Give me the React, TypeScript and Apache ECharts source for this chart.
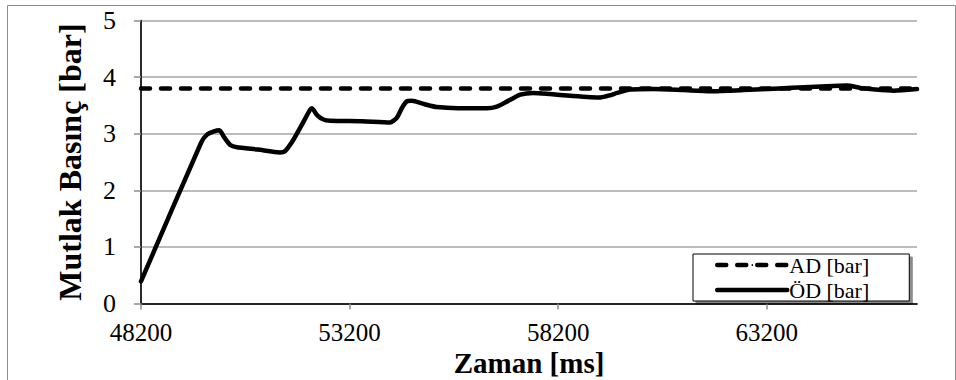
import React, { useEffect, useRef } from "react";
import * as echarts from "echarts";

const X_START = 48200;
const X_END = 66800;
const xTickLabels = ["48200", "53200", "58200", "63200"];
const adLevel = 3.8;

const odTimes = [
  48200, 49640, 49775, 49950, 50080, 50200, 50340, 50495, 51000, 51530, 51650,
  51850, 52050, 52250, 52295, 52420, 52575, 52735, 53500, 54170, 54330, 54450,
  54570, 54690, 55000, 55290, 55800, 56490, 56730, 57000, 57290, 57608, 58000,
  58490, 59210, 59450, 59610, 59930, 60500, 61200, 61850, 62640, 63500, 64100,
  64640, 65120, 65440, 65800, 66240, 66800,
];
const odValues = [
  0.39, 2.84, 2.98, 3.04, 3.06, 2.93, 2.8, 2.76, 2.72, 2.67, 2.69,
  2.89, 3.15, 3.42, 3.45, 3.33, 3.25, 3.23, 3.22, 3.2, 3.28, 3.45,
  3.57, 3.58, 3.52, 3.47, 3.45, 3.45, 3.48, 3.58, 3.69, 3.72, 3.7,
  3.67, 3.64, 3.68, 3.72, 3.78, 3.79, 3.77, 3.75, 3.77, 3.8, 3.82,
  3.84, 3.85, 3.81, 3.78, 3.76, 3.79,
];

const FONT = "Liberation Serif, Times New Roman, serif";
const AXIS_GRAY = "#8c8c8c";
const GRID_GRAY = "#a6a6a6";

export default function App() {
  const ref = useRef<HTMLDivElement>(null);

  useEffect(() => {
    document.body.style.margin = "0";
    if (!ref.current) return;
    const chart = echarts.init(ref.current, undefined, { renderer: "svg" });

    const odData = odTimes.map((t, i) => [t - X_START, odValues[i]]);
    const adData = [
      [0, adLevel],
      [X_END - X_START, adLevel],
    ];

    chart.setOption({
      animation: false,
      backgroundColor: "#ffffff",
      textStyle: { fontFamily: FONT },
      graphic: [
        {
          type: "rect",
          left: 5,
          top: 3,
          shape: { width: 948, height: 375 },
          style: { fill: "none", stroke: AXIS_GRAY, lineWidth: 1 },
          silent: true,
        },
      ],
      grid: {
        left: 141,
        right: 39,
        top: 20.5,
        bottom: 76.5,
        containLabel: false,
        outerBoundsMode: "none",
      },
      legend: {
        left: 693,
        top: 254,
        orient: "vertical",
        itemWidth: 70,
        itemHeight: 2,
        itemGap: 3,
        padding: [0, 40, 0, 22],
        backgroundColor: "#ffffff",
        borderColor: "#000000",
        borderWidth: 1,
        shadowColor: "rgba(0,0,0,0.45)",
        shadowBlur: 0,
        shadowOffsetX: 3,
        shadowOffsetY: 3,
        lineStyle: { width: 4.5, cap: "round" },
        textStyle: {
          fontFamily: FONT,
          fontSize: 22,
          color: "#000",
          padding: [0, 0, 0, -3],
        },
        data: ["AD [bar]", "ÖD [bar]"],
      },
      xAxis: [
        {
          type: "value",
          min: 0,
          max: X_END - X_START,
          interval: 5000,
          name: "Zaman [ms]",
          nameLocation: "middle",
          nameGap: 45,
          nameMoveOverlap: false,
          nameTextStyle: {
            fontFamily: FONT,
            fontSize: 29,
            fontWeight: "bold",
            color: "#000",
          },
          axisLine: { show: true, lineStyle: { color: AXIS_GRAY, width: 1.5 } },
          axisTick: {
            show: true,
            inside: false,
            length: 6,
            lineStyle: { color: AXIS_GRAY, width: 1.5 },
          },
          axisLabel: {
            margin: 16,
            fontFamily: FONT,
            fontSize: 25,
            color: "#000",
            formatter: (v: number) => {
              const idx = Math.round(v / 5000);
              return xTickLabels[idx] ?? String(v + X_START);
            },
            showMaxLabel: false,
          },
          splitLine: { show: false },
        },
        {
          type: "value",
          position: "top",
          min: 0,
          max: X_END - X_START,
          axisLine: { show: true, lineStyle: { color: "#000", width: 1.5 } },
          axisTick: { show: false },
          axisLabel: { show: false },
          splitLine: { show: false },
        },
      ],
      yAxis: [
        {
          type: "value",
          min: 0,
          max: 5,
          interval: 1,
          name: "Mutlak Basınç [bar]",
          nameLocation: "middle",
          nameGap: 55,
          nameTextStyle: {
            fontFamily: FONT,
            fontSize: 32,
            fontWeight: "bold",
            color: "#000",
          },
          axisLine: { show: true, lineStyle: { color: AXIS_GRAY, width: 1.5 } },
          axisTick: {
            show: true,
            inside: false,
            length: 7,
            lineStyle: { color: AXIS_GRAY, width: 1.5 },
          },
          axisLabel: {
            margin: 25,
            fontFamily: FONT,
            fontSize: 26,
            color: "#000",
          },
          splitLine: { show: true, lineStyle: { color: GRID_GRAY, width: 1.5 } },
        },
        {
          type: "value",
          position: "right",
          min: 0,
          max: 5,
          axisLine: { show: true, lineStyle: { color: "#000", width: 1.5 } },
          axisTick: { show: false },
          axisLabel: { show: false },
          splitLine: { show: false },
        },
      ],
      series: [
        {
          name: "AD [bar]",
          type: "line",
          data: adData,
          showSymbol: false,
          symbol: "none",
          lineStyle: {
            color: "#000",
            width: 4.5,
            type: [9, 11],
            cap: "round",
          },
          itemStyle: { color: "#000" },
          z: 3,
        },
        {
          name: "ÖD [bar]",
          type: "line",
          data: odData,
          showSymbol: false,
          symbol: "none",
          smooth: 0.2,
          lineStyle: { color: "#000", width: 4.5, cap: "round", join: "round" },
          itemStyle: { color: "#000" },
          z: 2,
        },
      ],
    });

    return () => chart.dispose();
  }, []);

  return <div ref={ref} style={{ width: 956, height: 380 }} />;
}
